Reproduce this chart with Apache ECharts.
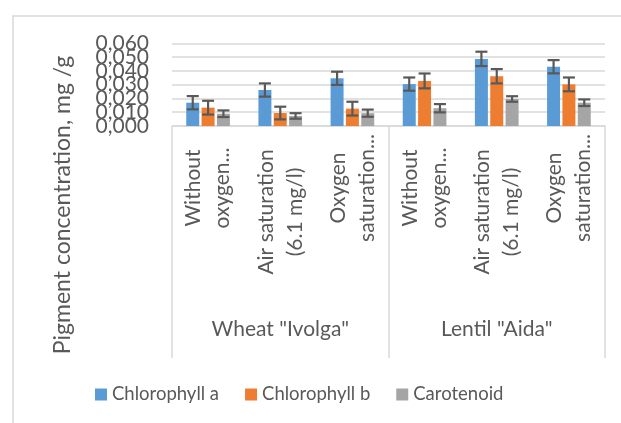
<!DOCTYPE html>
<html>
<head>
<meta charset="utf-8">
<script src="https://cdn.jsdelivr.net/npm/echarts@6/dist/echarts.min.js"></script>
<style>
html,body{margin:0;padding:0;background:#fff;}
#chart{width:621px;height:423px;}
</style>
</head>
<body>
<div id="chart"></div>
<script>
// ---- data ----
const categories = ['Without\noxygen...', 'Air saturation\n(6.1 mg/l)', 'Oxygen\nsaturation...',
                    'Without\noxygen...', 'Air saturation\n(6.1 mg/l)', 'Oxygen\nsaturation...'];
const groups = ['Wheat "Ivolga"', 'Lentil "Aida"'];
const seriesNames = ['Chlorophyll a', 'Chlorophyll b', 'Carotenoid'];
const chlA = [0.0169, 0.0261, 0.0346, 0.0304, 0.0487, 0.0430];
const chlB = [0.0133, 0.0094, 0.0126, 0.0327, 0.0361, 0.0302];
const carot = [0.0089, 0.0073, 0.0093, 0.0129, 0.0196, 0.0169];
const errA = [0.0048, 0.0048, 0.0048, 0.0048, 0.0052, 0.0048];
const errB = [0.0050, 0.0046, 0.0050, 0.0054, 0.0052, 0.0050];
const errC = [0.0024, 0.0020, 0.0026, 0.0030, 0.0020, 0.0024];
const yTicks = {min: 0, max: 0.06, interval: 0.01};

// ---- style ----
const colors = ['#5B9BD5', '#ED7D31', '#A5A5A5'];
const textColor = '#595959';
const lineColor = '#D9D9D9';
const font = 'Lato';
const BAR_W = 13, BAR_GAP = 0.18;
const pitch = BAR_W * (1 + BAR_GAP);

const chart = echarts.init(document.getElementById('chart'), null, {renderer: 'canvas'});

const values = [chlA, chlB, carot];
const errs = [errA, errB, errC];

function errSeries(k) {
  return {
    type: 'custom',
    xAxisIndex: 0, yAxisIndex: 0,
    z: 10,
    silent: true,
    data: values[k].map((v, i) => [i, v, errs[k][i]]),
    encode: {x: 0, y: 1},
    renderItem: function (params, api) {
      const i = api.value(0), v = api.value(1), e = api.value(2);
      const hi = api.coord([i, v + e]);
      const lo = api.coord([i, v - e]);
      const x = hi[0] + (k - 1) * pitch;
      const cap = 6;
      const st = {stroke: '#595959', lineWidth: 2.2};
      return {
        type: 'group',
        children: [
          {type: 'line', shape: {x1: x, y1: hi[1], x2: x, y2: lo[1]}, style: st},
          {type: 'line', shape: {x1: x - cap, y1: hi[1], x2: x + cap, y2: hi[1]}, style: st},
          {type: 'line', shape: {x1: x - cap, y1: lo[1], x2: x + cap, y2: lo[1]}, style: st}
        ]
      };
    }
  };
}

const catLabelBase = {
  interval: 0, rotate: 90, align: 'center', verticalAlign: 'middle',
  fontFamily: font, fontSize: 21, lineHeight: 29, color: textColor
};

const fmtY = v => v.toFixed(3).replace('.', ',');
const isOddTick = v => {
  const k = Math.round((v - yTicks.min) / yTicks.interval);
  return k === 1 || k === 5;
};
const yLabelBase = {margin: 23, fontFamily: font, fontSize: 21, color: textColor};

const option = {
  animation: false,
  backgroundColor: '#fff',
  grid: {left: 172, right: 16, top: 43.3, height: 82.7, containLabel: false},
  legend: {
    data: seriesNames,
    left: 90, top: 380,
    icon: 'rect', itemWidth: 12, itemHeight: 12, itemGap: 26,
    textStyle: {fontFamily: font, fontSize: 18.5, color: textColor}
  },
  xAxis: [
    {
      type: 'category', data: categories, position: 'bottom',
      axisLine: {show: true, lineStyle: {color: lineColor, width: 1.5}},
      axisTick: {show: false},
      axisLabel: Object.assign({}, catLabelBase, {
        margin: 62,
        formatter: (v, i) => (i % 3 === 1 ? '' : v)
      })
    },
    {
      type: 'category', data: groups, position: 'bottom', offset: 0,
      axisLine: {show: false},
      axisTick: {show: true, length: 232, lineStyle: {color: lineColor, width: 1.5}},
      axisLabel: {interval: 0, margin: 203, verticalAlign: 'middle', fontFamily: font, fontSize: 21, color: textColor}
    },
    {
      type: 'category', data: categories, position: 'bottom', offset: 0,
      axisLine: {show: false}, axisTick: {show: false},
      axisLabel: Object.assign({}, catLabelBase, {
        margin: 86,
        formatter: (v, i) => (i % 3 === 1 ? v : '')
      })
    }
  ],
  yAxis: [
    {
      type: 'value', position: 'left', offset: 0,
      min: yTicks.min, max: yTicks.max, interval: yTicks.interval,
      axisLine: {show: false}, axisTick: {show: false},
      splitLine: {lineStyle: {color: lineColor, width: 1.5}},
      axisLabel: Object.assign({}, yLabelBase, {
        showMinLabel: true, showMaxLabel: true,
        formatter: v => (isOddTick(v) ? '' : fmtY(v))
      })
    },
    {
      type: 'value', position: 'left', offset: 0,
      min: yTicks.min, max: yTicks.max, interval: yTicks.interval,
      axisLine: {show: false}, axisTick: {show: false}, splitLine: {show: false},
      axisLabel: Object.assign({}, yLabelBase, {
        showMinLabel: false, showMaxLabel: false,
        formatter: v => (isOddTick(v) ? fmtY(v) : '')
      })
    }
  ],
  series: [
    ...seriesNames.map((n, k) => ({
      name: n, type: 'bar', xAxisIndex: 0, yAxisIndex: 0, data: values[k],
      barWidth: BAR_W, barGap: (BAR_GAP * 100) + '%',
      itemStyle: {color: colors[k]}
    })),
    errSeries(0), errSeries(1), errSeries(2)
  ],
  graphic: [
    {type: 'rect', shape: {x: 13, y: 16, width: 700, height: 500}, style: {fill: 'none', stroke: lineColor, lineWidth: 1.5}, z: -1},
    {type: 'text', x: 63, y: 205, rotation: Math.PI / 2,
     style: {text: 'Pigment concentration, mg /g', fontFamily: font, fontSize: 23, fill: textColor, align: 'center', verticalAlign: 'middle'}}
  ]
};
chart.setOption(option);
</script>
</body>
</html>
